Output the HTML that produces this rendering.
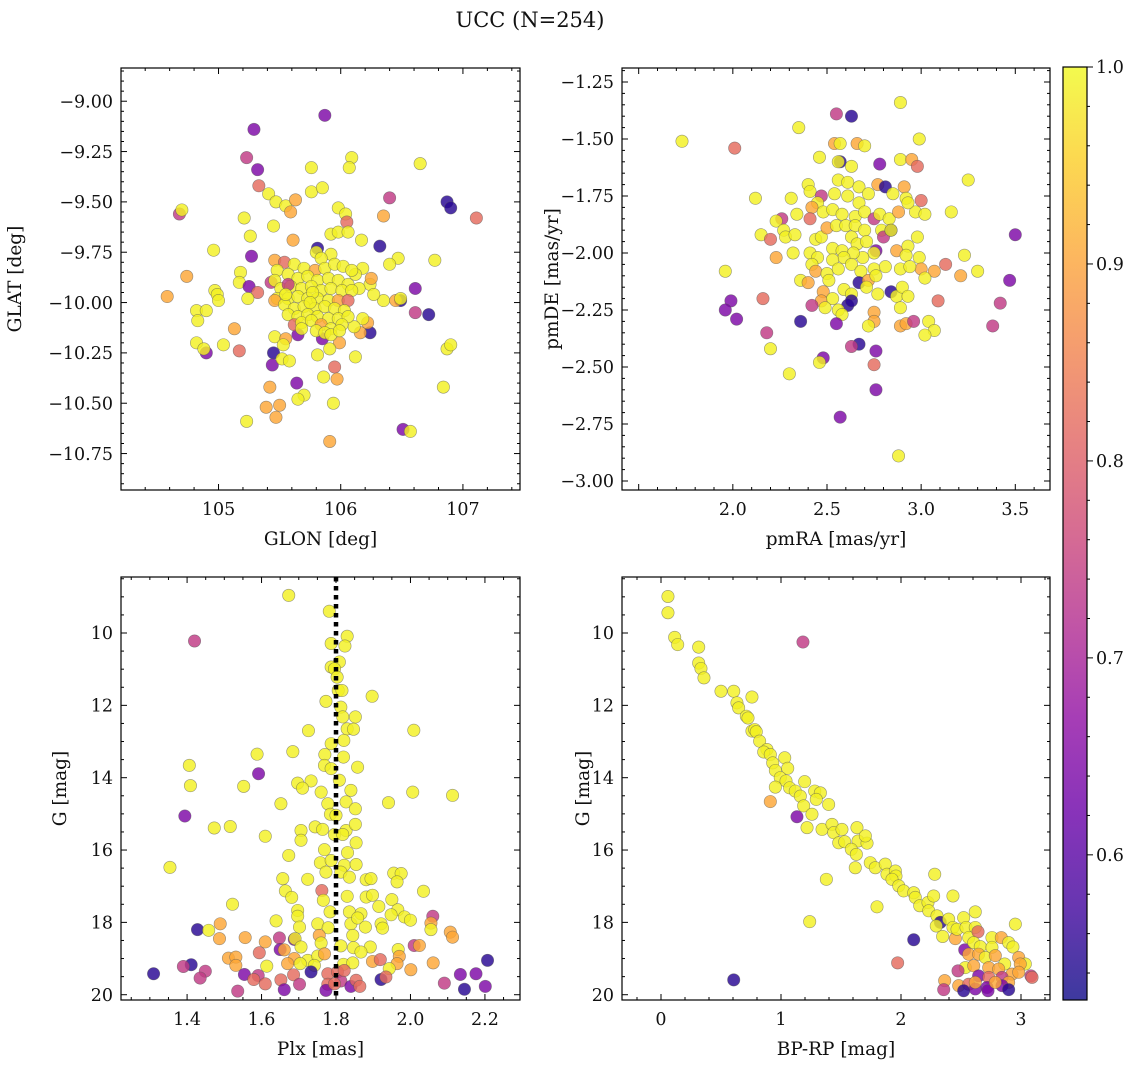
<!DOCTYPE html>
<html>
<head>
<meta charset="utf-8">
<style>
  html,body{margin:0;padding:0;background:#fff;}
  svg{display:block;}
  text{font-family:"DejaVu Serif","Liberation Serif",serif;fill:#111;}
</style>
</head>
<body>
<svg id="fig" width="1136" height="1067" viewBox="0 0 1136 1067" xmlns="http://www.w3.org/2000/svg">
  <text x="530" y="27" font-size="21" text-anchor="middle">UCC (N=254)</text>
</svg>
<script>
// membership probability levels (colour values)
const Y=0.99, O=0.905, S=0.82, M=0.74, P=0.645, B=0.55;

// Panel 1: GLON, GLAT, prob
const posData = [
[105.87,-9.07,P],[105.29,-9.14,P],[105.23,-9.28,M],[105.32,-9.34,P],[105.33,-9.42,S],[106.09,-9.28,Y],[106.07,-9.33,Y],[105.76,-9.33,Y],[106.65,-9.31,Y],[105.41,-9.46,Y],[105.76,-9.45,Y],[105.85,-9.43,Y],[106.40,-9.48,M],[106.87,-9.50,B],[106.90,-9.53,B],[107.11,-9.58,S],[104.68,-9.56,M],[104.70,-9.54,Y],[105.47,-9.50,Y],[105.55,-9.52,Y],[105.63,-9.49,O],[105.59,-9.55,O],[105.21,-9.58,Y],[105.45,-9.62,Y],[105.98,-9.53,Y],[106.04,-9.56,Y],[106.35,-9.57,O],[106.05,-9.60,S],[105.92,-9.66,Y],[105.98,-9.65,Y],[106.06,-9.65,Y],[105.26,-9.67,Y],[105.61,-9.69,O],[106.17,-9.69,Y],[106.32,-9.72,B],[104.96,-9.74,Y],[105.27,-9.77,P],[105.81,-9.73,B],[105.80,-9.75,Y],[105.92,-9.76,Y],[105.84,-9.78,Y],[106.77,-9.79,Y],[106.47,-9.78,Y],[106.40,-9.81,Y],[105.46,-9.79,O],[105.54,-9.80,S],[104.74,-9.87,O],[105.18,-9.85,Y],[105.17,-9.90,Y],[105.25,-9.92,P],[105.32,-9.95,S],[105.43,-9.90,M],[104.97,-9.94,Y],[104.99,-9.96,Y],[105.00,-9.99,Y],[104.58,-9.97,O],[105.24,-9.98,Y],[106.61,-9.93,P],[106.49,-9.99,B],[106.45,-9.99,O],[106.49,-9.98,Y],[106.35,-9.99,Y],[106.24,-9.91,Y],[106.27,-9.96,Y],[106.15,-9.93,Y],[106.18,-9.83,Y],[106.12,-9.86,Y],[106.25,-9.88,O],[104.82,-10.04,Y],[104.90,-10.04,Y],[104.83,-10.09,Y],[106.61,-10.05,M],[106.72,-10.06,B],[105.13,-10.13,O],[104.82,-10.20,Y],[105.04,-10.21,Y],[104.90,-10.25,P],[104.88,-10.23,Y],[105.17,-10.24,S],[105.46,-10.17,Y],[105.55,-10.18,O],[105.53,-10.21,Y],[105.65,-10.16,P],[105.85,-10.18,P],[106.24,-10.15,B],[106.16,-10.15,O],[106.22,-10.10,O],[106.18,-10.08,Y],[106.11,-10.12,Y],[105.99,-10.20,O],[105.91,-10.23,Y],[105.81,-10.26,Y],[106.12,-10.27,Y],[105.45,-10.25,B],[105.44,-10.31,P],[105.52,-10.28,Y],[105.58,-10.29,Y],[105.95,-10.32,S],[105.86,-10.37,Y],[105.97,-10.38,O],[105.64,-10.40,P],[105.42,-10.42,O],[105.70,-10.46,Y],[105.65,-10.48,Y],[105.94,-10.50,Y],[106.87,-10.23,Y],[106.90,-10.21,Y],[106.84,-10.42,Y],[105.39,-10.52,O],[105.50,-10.51,O],[105.47,-10.57,O],[105.23,-10.59,Y],[106.51,-10.63,P],[106.57,-10.64,Y],[105.91,-10.69,O],
[105.62,-9.81,Y],[105.70,-9.83,Y],[105.79,-9.84,O],[105.87,-9.83,Y],[105.95,-9.81,Y],[106.02,-9.82,Y],[106.09,-9.84,Y],[105.48,-9.84,Y],[105.57,-9.86,Y],[105.65,-9.88,Y],[105.73,-9.87,Y],[105.81,-9.89,Y],[105.90,-9.88,Y],[105.98,-9.89,Y],[106.06,-9.91,Y],[105.46,-9.89,Y],[105.51,-9.93,Y],[105.59,-9.92,Y],[105.68,-9.93,Y],[105.76,-9.92,Y],[105.84,-9.94,Y],[105.92,-9.93,Y],[106.01,-9.94,Y],[106.09,-9.94,Y],[105.48,-9.98,Y],[105.57,-9.98,Y],[105.65,-9.97,Y],[105.73,-9.98,Y],[105.81,-9.98,Y],[105.90,-9.99,Y],[105.98,-9.99,O],[106.06,-9.99,S],[105.46,-9.99,O],[105.54,-10.01,Y],[105.62,-10.03,Y],[105.70,-10.02,Y],[105.79,-10.03,Y],[105.87,-10.02,Y],[105.95,-10.03,Y],[106.03,-10.04,Y],[105.57,-10.06,Y],[105.65,-10.07,Y],[105.73,-10.06,Y],[105.81,-10.07,Y],[105.90,-10.08,Y],[105.98,-10.08,Y],[106.06,-10.07,Y],[105.62,-10.11,S],[105.68,-10.10,Y],[105.76,-10.09,Y],[105.84,-10.11,O],[105.92,-10.13,Y],[106.01,-10.11,Y],[105.80,-10.14,Y],[105.87,-10.15,Y],[105.92,-10.16,Y],[105.99,-10.14,Y],[105.68,-10.13,Y],[105.57,-9.91,M],[105.77,-9.95,Y],[105.75,-10.00,Y],[105.55,-9.96,Y]
];

// Panel 2: pmRA, pmDE, prob
const pmData = [
[1.73,-1.51,Y],[2.01,-1.54,S],[2.35,-1.45,Y],[2.55,-1.39,M],[2.63,-1.40,B],[2.89,-1.34,Y],[2.99,-1.50,Y],[2.54,-1.52,O],[2.57,-1.52,Y],[2.66,-1.52,O],[2.70,-1.53,Y],[2.46,-1.58,Y],[2.57,-1.60,B],[2.56,-1.60,Y],[2.63,-1.62,Y],[2.78,-1.61,P],[2.89,-1.59,Y],[2.95,-1.59,O],[2.98,-1.62,S],[3.25,-1.68,Y],[2.12,-1.76,Y],[2.31,-1.76,Y],[2.40,-1.70,Y],[2.41,-1.73,Y],[2.47,-1.75,M],[2.45,-1.78,Y],[2.42,-1.80,O],[2.34,-1.83,Y],[2.26,-1.85,M],[2.23,-1.86,Y],[2.41,-1.85,S],[2.56,-1.68,Y],[2.61,-1.69,Y],[2.54,-1.74,Y],[2.61,-1.75,Y],[2.67,-1.71,Y],[2.72,-1.74,Y],[2.77,-1.70,O],[2.81,-1.71,B],[2.85,-1.74,Y],[2.91,-1.71,O],[2.92,-1.76,Y],[3.00,-1.77,S],[2.97,-1.82,Y],[3.02,-1.83,Y],[3.16,-1.82,Y],[2.48,-1.82,Y],[2.53,-1.81,Y],[2.58,-1.83,Y],[2.65,-1.84,Y],[2.67,-1.78,Y],[2.70,-1.82,Y],[2.75,-1.85,M],[2.78,-1.83,Y],[2.83,-1.85,Y],[2.88,-1.82,O],[2.93,-1.78,Y],[2.15,-1.92,Y],[2.20,-1.94,S],[2.27,-1.90,Y],[2.28,-1.93,Y],[2.33,-1.92,Y],[2.44,-1.94,Y],[2.47,-1.93,Y],[2.50,-1.89,O],[2.55,-1.88,Y],[2.60,-1.88,Y],[2.65,-1.88,Y],[2.70,-1.90,Y],[2.79,-1.90,Y],[2.80,-1.93,M],[2.84,-1.90,B],[2.84,-1.90,Y],[2.98,-1.93,Y],[3.50,-1.92,P],[2.23,-2.02,O],[2.32,-2.00,Y],[2.41,-2.00,Y],[2.45,-2.02,Y],[2.53,-1.98,Y],[2.58,-1.99,Y],[2.63,-1.93,Y],[2.66,-1.96,Y],[2.71,-1.95,Y],[2.76,-1.99,P],[2.75,-2.00,Y],[2.69,-2.02,Y],[2.64,-2.00,Y],[2.59,-2.02,Y],[2.53,-2.03,Y],[2.87,-1.99,O],[2.93,-1.97,Y],[2.92,-2.01,Y],[2.99,-2.02,Y],[3.23,-2.01,Y],[3.13,-2.05,S],[3.21,-2.10,O],[3.30,-2.08,Y],[3.00,-2.07,O],[3.07,-2.08,O],[3.02,-2.11,Y],[1.96,-2.08,Y],[2.42,-2.05,Y],[2.44,-2.08,O],[2.50,-2.09,Y],[2.56,-2.07,Y],[2.63,-2.05,Y],[2.68,-2.08,Y],[2.75,-2.07,Y],[2.81,-2.06,Y],[2.89,-2.07,Y],[2.94,-2.06,Y],[2.36,-2.12,Y],[2.40,-2.13,O],[2.51,-2.12,Y],[2.67,-2.13,B],[2.72,-2.12,O],[2.76,-2.10,Y],[2.48,-2.17,O],[2.47,-2.21,O],[2.53,-2.20,Y],[2.59,-2.16,Y],[2.63,-2.18,Y],[2.71,-2.15,Y],[2.77,-2.18,Y],[2.84,-2.17,B],[2.87,-2.19,Y],[2.90,-2.15,Y],[2.93,-2.19,Y],[2.89,-2.24,Y],[3.47,-2.12,P],[2.16,-2.20,S],[2.42,-2.23,M],[2.49,-2.24,Y],[2.61,-2.23,B],[2.63,-2.21,B],[2.56,-2.25,Y],[2.58,-2.27,Y],[2.75,-2.26,O],[2.75,-2.30,O],[2.72,-2.32,Y],[2.89,-2.32,O],[2.92,-2.31,O],[2.96,-2.30,M],[3.04,-2.30,Y],[3.07,-2.34,Y],[3.02,-2.36,Y],[3.09,-2.21,S],[3.42,-2.22,M],[3.38,-2.32,M],[1.99,-2.21,P],[1.96,-2.25,P],[2.02,-2.29,P],[2.36,-2.30,B],[2.55,-2.31,P],[2.18,-2.35,M],[2.20,-2.42,Y],[2.67,-2.40,B],[2.63,-2.41,M],[2.76,-2.43,P],[2.75,-2.49,S],[2.48,-2.46,P],[2.46,-2.48,Y],[2.30,-2.53,Y],[2.76,-2.60,P],[2.57,-2.72,P],[2.88,-2.89,Y]
];

// Panel 3: Plx, G, prob
const plxData = [
[1.673,8.96,Y],[1.782,9.40,Y],[1.420,10.22,M],[1.830,10.09,Y],[1.787,10.29,Y],[1.824,10.36,Y],[1.809,10.80,Y],[1.787,10.94,Y],[1.796,10.99,Y],[1.803,11.22,Y],[1.806,11.59,Y],[1.816,11.59,Y],[1.773,11.89,Y],[1.897,11.75,Y],[1.813,12.05,Y],[1.818,12.32,Y],[1.852,12.32,Y],[1.830,12.65,Y],[1.847,12.66,Y],[2.009,12.69,Y],[1.726,12.70,Y],[1.821,12.97,Y],[1.684,13.28,Y],[1.588,13.35,Y],[1.787,13.06,Y],[1.770,13.36,Y],[1.820,13.43,Y],[1.858,13.71,Y],[1.406,13.66,Y],[1.592,13.89,P],[1.769,13.66,Y],[1.787,13.75,Y],[1.809,14.07,Y],[1.733,14.09,Y],[1.697,14.15,Y],[1.710,14.29,Y],[1.760,14.40,Y],[1.409,14.22,Y],[1.552,14.24,Y],[1.840,14.35,Y],[2.006,14.40,Y],[2.113,14.49,Y],[1.652,14.72,Y],[1.778,14.72,Y],[1.827,14.67,Y],[1.941,14.69,Y],[1.852,14.86,Y],[1.785,15.01,Y],[1.800,15.04,Y],[1.394,15.06,P],[1.473,15.39,Y],[1.516,15.35,Y],[1.744,15.36,Y],[1.764,15.43,Y],[1.706,15.46,Y],[1.827,15.46,Y],[1.852,15.29,Y],[1.610,15.62,Y],[1.706,15.73,Y],[1.796,15.57,Y],[1.818,15.57,Y],[1.854,15.80,Y],[1.769,15.99,Y],[1.831,16.07,Y],[1.673,16.15,Y],[1.758,16.35,Y],[1.787,16.29,Y],[1.822,16.42,Y],[1.854,16.40,Y],[1.354,16.48,Y],[1.773,16.61,Y],[1.813,16.61,Y],[1.836,16.75,Y],[1.657,16.79,Y],[1.724,16.81,Y],[1.881,16.82,Y],[1.894,16.79,Y],[1.955,16.64,Y],[1.975,16.65,Y],[1.964,16.88,Y],[1.762,17.12,S],[1.664,17.13,Y],[1.681,17.31,Y],[1.766,17.39,Y],[1.830,17.28,Y],[1.881,17.30,Y],[1.898,17.25,Y],[2.035,17.14,Y],[1.522,17.50,Y],[1.950,17.37,Y],[1.915,17.56,Y],[1.697,17.67,Y],[1.784,17.71,Y],[1.836,17.71,Y],[1.867,17.76,Y],[1.966,17.65,Y],[1.948,17.79,Y],[1.984,17.85,Y],[2.000,17.94,Y],[2.060,17.83,M],[2.055,18.02,O],[2.055,18.20,Y],[1.697,17.83,Y],[1.639,17.96,Y],[1.751,18.04,Y],[1.840,18.04,Y],[1.858,17.88,Y],[1.879,18.13,Y],[1.921,18.04,Y],[1.925,18.16,Y],[1.428,18.20,B],[1.458,18.22,Y],[1.489,18.04,O],[1.702,18.13,Y],[1.779,18.15,Y],[1.487,18.45,O],[1.556,18.42,O],[1.610,18.54,O],[1.648,18.43,M],[1.688,18.47,P],[1.690,18.45,Y],[1.755,18.36,O],[1.760,18.57,Y],[1.845,18.36,Y],[1.813,18.65,Y],[1.847,18.70,Y],[1.892,18.68,Y],[1.867,18.82,Y],[1.967,18.75,Y],[2.107,18.27,O],[2.113,18.41,O],[2.010,18.64,M],[2.024,18.64,O],[1.650,18.75,P],[1.661,18.76,O],[1.706,18.68,Y],[1.594,18.84,S],[1.511,18.99,O],[1.531,18.96,O],[1.688,19.00,O],[1.724,19.05,Y],[1.751,18.93,Y],[1.769,18.87,O],[1.670,19.14,O],[1.704,19.14,Y],[1.742,19.19,Y],[1.614,19.21,Y],[1.531,19.19,O],[1.820,19.16,Y],[1.845,19.12,Y],[1.898,19.08,O],[1.919,19.03,S],[1.970,18.94,O],[1.964,19.14,O],[2.001,19.31,O],[1.943,19.28,Y],[2.061,19.12,O],[2.207,19.05,B],[1.411,19.17,B],[1.390,19.22,M],[1.449,19.35,M],[1.435,19.54,M],[1.310,19.42,B],[1.554,19.44,P],[1.591,19.47,M],[1.579,19.58,S],[1.610,19.70,S],[1.652,19.59,S],[1.686,19.45,S],[1.733,19.37,B],[1.702,19.71,M],[1.661,19.86,P],[1.536,19.90,M],[1.778,19.42,S],[1.804,19.37,S],[1.778,19.71,S],[1.773,19.88,P],[1.813,19.62,M],[1.840,19.77,P],[1.854,19.60,S],[1.864,19.77,S],[1.921,19.58,B],[1.934,19.51,S],[2.091,19.68,M],[2.134,19.44,P],[2.176,19.42,P],[2.145,19.85,B],[2.201,19.77,P],[1.796,19.70,S],[1.822,19.33,S]
];

// Panel 4: BP-RP, G, prob
const cmdData = [
[0.058,8.99,Y],[0.058,9.44,Y],[0.114,10.12,Y],[0.139,10.32,Y],[0.314,10.39,Y],[0.314,10.83,Y],[0.333,10.98,Y],[0.358,11.24,Y],[1.183,10.25,M],[0.500,11.61,Y],[0.606,11.61,Y],[0.758,11.77,Y],[0.633,11.93,Y],[0.647,12.07,Y],[0.711,12.30,Y],[0.725,12.35,Y],[0.758,12.71,Y],[0.781,12.67,Y],[0.794,12.73,Y],[0.822,12.99,Y],[0.883,13.22,Y],[0.856,13.29,Y],[0.911,13.36,Y],[0.931,13.59,Y],[1.031,13.45,Y],[1.056,13.74,Y],[0.953,13.80,Y],[0.994,14.00,Y],[1.042,14.09,Y],[1.197,14.11,Y],[0.953,14.26,Y],[1.072,14.28,Y],[1.119,14.37,Y],[1.161,14.51,Y],[1.189,14.78,Y],[1.281,14.37,Y],[1.328,14.42,Y],[1.294,14.60,Y],[1.397,14.74,Y],[1.258,15.01,Y],[1.217,15.38,Y],[0.911,14.66,O],[1.133,15.08,P],[1.342,15.43,Y],[1.425,15.29,Y],[1.439,15.52,Y],[1.508,15.43,Y],[1.481,15.80,Y],[1.531,15.77,Y],[1.633,15.38,Y],[1.642,15.75,Y],[1.717,15.81,Y],[1.703,15.61,Y],[1.586,15.98,Y],[1.628,16.12,Y],[1.619,16.49,Y],[1.744,16.35,Y],[1.786,16.49,Y],[1.869,16.39,Y],[1.883,16.67,Y],[1.953,16.58,Y],[1.958,16.72,Y],[1.925,16.81,Y],[1.981,16.99,Y],[2.022,17.13,Y],[2.106,17.18,Y],[2.119,17.31,Y],[2.156,17.54,Y],[2.225,17.45,Y],[2.272,17.27,Y],[2.281,16.67,Y],[2.433,17.27,Y],[1.800,17.57,Y],[1.378,16.81,Y],[1.239,17.98,Y],[2.231,17.68,Y],[2.300,17.82,Y],[2.328,18.00,B],[2.294,18.10,Y],[2.397,17.91,Y],[2.433,18.14,Y],[2.347,18.39,Y],[2.453,18.45,O],[2.522,17.87,Y],[2.467,18.19,Y],[2.542,18.14,Y],[2.619,17.71,Y],[2.619,18.14,Y],[2.564,18.42,Y],[2.642,18.26,S],[2.106,18.48,B],[2.531,18.76,P],[2.606,18.56,Y],[2.661,18.67,Y],[2.758,18.42,Y],[2.758,18.69,Y],[2.836,18.42,O],[2.897,18.56,Y],[2.933,18.68,Y],[2.953,18.05,Y],[2.564,18.88,O],[2.647,18.88,O],[2.703,18.97,Y],[2.786,18.92,O],[2.864,19.15,Y],[2.981,18.97,O],[3.036,19.15,Y],[2.994,19.15,O],[2.536,19.25,Y],[2.606,19.20,O],[2.731,19.25,O],[2.814,19.29,O],[2.925,19.43,O],[3.083,19.48,M],[3.092,19.52,S],[1.972,19.12,S],[2.475,19.34,M],[2.647,19.48,P],[2.731,19.52,S],[2.842,19.52,M],[2.897,19.66,O],[2.981,19.38,O],[2.364,19.61,O],[2.356,19.86,M],[2.481,19.75,O],[2.564,19.71,S],[2.619,19.84,P],[2.522,19.89,B],[2.717,19.80,P],[2.725,19.89,P],[2.842,19.75,P],[2.897,19.86,B],[0.606,19.59,B],[2.786,19.66,O],[2.619,19.66,O]
];

// tick labels
const p1XTicks = [105,106,107];
const p1YTicks = [-9.00,-9.25,-9.50,-9.75,-10.00,-10.25,-10.50,-10.75];
const p2XTicks = [2.0,2.5,3.0,3.5];
const p2YTicks = [-1.25,-1.50,-1.75,-2.00,-2.25,-2.50,-2.75,-3.00];
const p3XTicks = [1.4,1.6,1.8,2.0,2.2];
const gTicks = [10,12,14,16,18,20];
const p4XTicks = [0,1,2,3];
const cbTicks = [0.6,0.7,0.8,0.9,1.0];
const plxCluster = 1.8;
const vmin = 0.5263, vmax = 1.0;

const NS = "http://www.w3.org/2000/svg";
const svg = document.getElementById('fig');
const TICKFS = 17.5, TITLEFS = 18.5;
function mk(tag, attrs, parent){
  const e = document.createElementNS(NS, tag);
  for (const k in attrs) e.setAttribute(k, attrs[k]);
  (parent || svg).appendChild(e);
  return e;
}
const plasma = ["#0d0887","#41049d","#6a00a8","#8f0da4","#b12a90","#cc4778","#e16462","#f2844b","#fca636","#fcce25","#f0f921"];
function hex(h){return [parseInt(h.slice(1,3),16),parseInt(h.slice(3,5),16),parseInt(h.slice(5,7),16)];}
function cmap(v){
  let t = (v - vmin)/(vmax - vmin); t = Math.max(0, Math.min(1, t));
  const f = t*10, i = Math.min(9, Math.floor(f)), r = f - i;
  const a = hex(plasma[i]), b = hex(plasma[i+1]);
  return `rgb(${Math.round(a[0]+(b[0]-a[0])*r)},${Math.round(a[1]+(b[1]-a[1])*r)},${Math.round(a[2]+(b[2]-a[2])*r)})`;
}
function fmt(v, d){ const s = Math.abs(v).toFixed(d); return (v < 0 ? "\u2212" : "") + s; }

function panel(cfg){
  const {name, L, R, T, Bm, x0, x1, y0, y1} = cfg;
  const sx = v => L + (v - x0)/(x1 - x0)*(R - L);
  const sy = v => T + (v - y0)/(y1 - y0)*(Bm - T);
  const g = mk('g', {});
  
  
  const tg = mk('g', {stroke:'#000','stroke-width':1}, g);
  
  
  const eps = 1e-9;
  for (let v = Math.ceil(x0/cfg.xminor - eps)*cfg.xminor; v <= x1 + eps; v += cfg.xminor){
    const x = sx(v);
    const major = Math.abs(v/cfg.xmajor - Math.round(v/cfg.xmajor)) < 1e-6;
    const len = major ? 6 : 3;
    mk('line', {x1:x, x2:x, y1:Bm, y2:Bm-len}, tg);
    mk('line', {x1:x, x2:x, y1:T, y2:T+len}, tg);
  }
  const ylo = Math.min(y0,y1), yhi = Math.max(y0,y1);
  for (let v = Math.ceil(ylo/cfg.yminor - eps)*cfg.yminor; v <= yhi + eps; v += cfg.yminor){
    const y = sy(v);
    const major = Math.abs(v/cfg.ymajor - Math.round(v/cfg.ymajor)) < 1e-6;
    const len = major ? 6 : 3;
    mk('line', {x1:L, x2:L+len, y1:y, y2:y}, tg);
    mk('line', {x1:R, x2:R-len, y1:y, y2:y}, tg);
  }
  cfg.xTicks.forEach(v => {
    const t = mk('text', {x:sx(v), y:Bm+25, 'font-size':TICKFS, 'text-anchor':'middle'}, g);
    
    
    t.textContent = fmt(v, cfg.xdec);
  });
  cfg.yTicks.forEach(v => {
    const t = mk('text', {x:L-8, y:sy(v)+6.2, 'font-size':TICKFS, 'text-anchor':'end'}, g);
    
    
    t.textContent = fmt(v, cfg.ydec);
  });
  const xt = mk('text', {x:(L+R)/2, y:Bm+55, 'font-size':TITLEFS, 'text-anchor':'middle'}, g);
  
  
  xt.textContent = cfg.xlabel;
  const yx = cfg.ylabX, yy = (T+Bm)/2;
  const yt = mk('text', {x:yx, y:yy, 'font-size':TITLEFS, 'text-anchor':'middle', transform:`rotate(-90 ${yx} ${yy})`}, g);
  
  
  yt.textContent = cfg.ylabel;
  const cid = 'clip-' + name;
  const cp = mk('clipPath', {id:cid}, g);
  mk('rect', {x:L, y:T, width:R-L, height:Bm-T}, cp);
  const pg = mk('g', {'clip-path':`url(#${cid})`}, g);
  
  
  cfg.data.forEach(d => {
    const c = mk('circle', {cx:sx(d[0]), cy:sy(d[1]), r:6.2, fill:cmap(d[2]), 'fill-opacity':0.82, stroke:'#555', 'stroke-opacity':0.6, 'stroke-width':0.6}, pg);
    
    
  });
  if (cfg.vline !== undefined){
    const l = mk('line', {x1:sx(cfg.vline), x2:sx(cfg.vline), y1:T, y2:Bm, stroke:'#000', 'stroke-width':4.5, 'stroke-dasharray':'4.5 4.5'}, pg);
    
    
  }
  const fr = mk('rect', {x:L, y:T, width:R-L, height:Bm-T, fill:'none', stroke:'#000', 'stroke-width':1.2}, g);
  
  
}

panel({name:'glon-glat', L:121, R:520, T:68, Bm:490, x0:104.202, x1:107.467, y0:-8.835, y1:-10.931,
  xminor:0.2, xmajor:1, yminor:0.05, ymajor:0.25, xTicks:p1XTicks, yTicks:p1YTicks, xdec:0, ydec:2,
  xlabel:'GLON [deg]', ylabel:'GLAT [deg]', ylabX:21, data:posData});
panel({name:'pmra-pmde', L:622, R:1050, T:68, Bm:490, x0:1.4114, x1:3.6843, y0:-1.1886, y1:-3.0395,
  xminor:0.1, xmajor:0.5, yminor:0.05, ymajor:0.25, xTicks:p2XTicks, yTicks:p2YTicks, xdec:1, ydec:2,
  xlabel:'pmRA [mas/yr]', ylabel:'pmDE [mas/yr]', ylabX:558, data:pmData});
panel({name:'plx-g', L:121, R:520, T:577, Bm:1000, x0:1.2225, x1:2.2942, y0:8.4515, y1:20.146,
  xminor:0.05, xmajor:0.2, yminor:0.5, ymajor:2, xTicks:p3XTicks, yTicks:gTicks, xdec:1, ydec:0,
  xlabel:'Plx [mas]', ylabel:'G [mag]', ylabX:66, data:plxData, vline:plxCluster});
panel({name:'cmd', L:622, R:1050, T:577, Bm:1000, x0:-0.325, x1:3.2417, y0:8.4515, y1:20.146,
  xminor:0.2, xmajor:1, yminor:0.5, ymajor:2, xTicks:p4XTicks, yTicks:gTicks, xdec:0, ydec:0,
  xlabel:'BP-RP [mag]', ylabel:'G [mag]', ylabX:589, data:cmdData});

(function(){
  const L = 1063, R = 1087, T = 67, Bm = 1000;
  const sy = v => Bm - (v - vmin)/(vmax - vmin)*(Bm - T);
  const g = mk('g', {});
  
  
  const defs = mk('defs', {}, g);
  const lg = mk('linearGradient', {id:'cbgrad', x1:0, y1:1, x2:0, y2:0}, defs);
  plasma.forEach((c, i) => mk('stop', {offset:(i/10), 'stop-color':c}, lg));
  const r = mk('rect', {x:L, y:T, width:R-L, height:Bm-T, fill:'url(#cbgrad)', 'fill-opacity':0.8}, g);
  
  
  for (let k = 54; k <= 100; k += 2){
    const v = k/100; const y = sy(v);
    const major = k % 10 === 0;
    mk('line', {x1:R, x2:R+(major?6:3), y1:y, y2:y, stroke:'#000', 'stroke-width':1}, g);
  }
  cbTicks.forEach(v => {
    const t = mk('text', {x:R+9, y:sy(v)+6.2, 'font-size':TICKFS}, g);
    
    
    t.textContent = v.toFixed(1);
  });
  const fr = mk('rect', {x:L, y:T, width:R-L, height:Bm-T, fill:'none', stroke:'#000', 'stroke-width':1.2}, g);
  
  
})();
</script>
</body>
</html>
